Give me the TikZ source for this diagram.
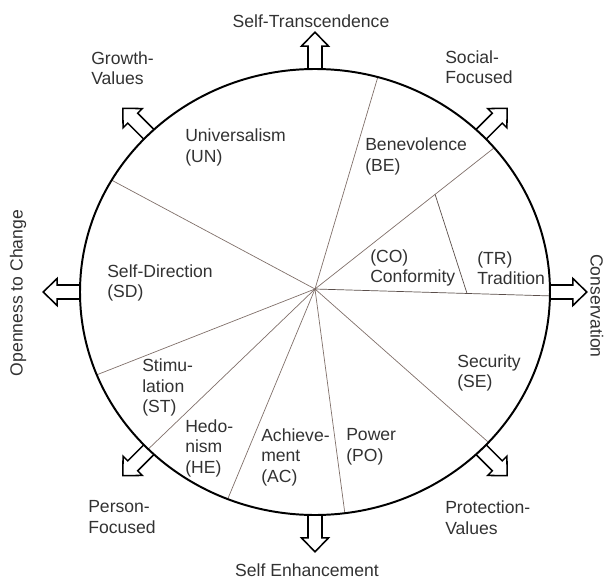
\documentclass[tikz,border=0pt]{standalone}
\usepackage{fontspec}
\setmainfont{Liberation Sans}
\usepackage{tikz}
\usetikzlibrary{positioning, calc}

\definecolor{spoke}{RGB}{128,112,106}
\definecolor{ink}{RGB}{50,50,50}

\begin{document}
\begin{tikzpicture}[
  lbl/.style={anchor=west, align=left, inner sep=0pt, text=ink, font=\fontsize{12.5}{14.6}\selectfont},
  dirlbl/.style={inner sep=0pt, text=ink, font=\fontsize{12.5}{14.6}\selectfont},
  spokeline/.style={draw=spoke, line width=0.5pt},
  blockarrow/.style={draw=black, fill=white, line width=1.1pt, line join=miter}
]
\useasboundingbox (-7.875,-7.15) rectangle (7.325,7.3);
% block arrows
\foreach \a in {0,45,...,315}
  \filldraw[blockarrow, shift={(\a:5.875 and 5.575)}, rotate=\a]
    (0,-0.175) -- (0.57,-0.175) -- (0.57,-0.34) -- (0.92,0) -- (0.57,0.34) -- (0.57,0.175) -- (0,0.175);
% spokes
\coordinate (hub) at (0,0.075);
\foreach \nm/\t in {unbe/74.5, beco/40.3, sdun/149.9, stsd/201.8, hest/224.8, heac/248.2, acpo/-82.7, pose/-42.4, setr/-1}
  \coordinate (\nm) at (\t:5.875 and 5.575);
\foreach \nm in {unbe, beco, sdun, stsd, hest, heac, acpo, pose}
  \draw[spokeline] (hub) -- (\nm);
\draw[spokeline, draw=spoke!70!black] (hub) -- (setr);
% conformity / tradition
\coordinate (cotop) at ($(hub)!0.67!(beco)$);
\coordinate (cobot) at ($(hub)!0.647!(setr)$);
\draw[spokeline, draw=spoke!70!black] (cotop) -- (cobot);
% circle
\draw[line width=1.4pt] (0,0) ellipse (5.875 and 5.575);
% values
\node[lbl] (un) at (-3.25,3.6125) {Universalism\\(UN)};
\node[lbl] (be) at (1.25,3.3875) {Benevolence\\(BE)};
\node[lbl] (sd) at (-5.2,0.225) {Self-Direction\\(SD)};
\node[lbl] (co) at (1.375,0.6) {(CO)\\Conformity};
\node[lbl] (tr) at (4.05,0.6) {(TR)\\Tradition};
\node[lbl] (st) at (-4.325,-2.3875) {Stimu-\\lation\\(ST)};
\node[lbl] (he) at (-3.25,-3.9) {Hedo-\\nism\\(HE)};
\node[lbl] (ac) at (-1.35,-4.125) {Achieve-\\ment\\(AC)};
\node[lbl] (po) at (0.775,-3.875) {Power\\(PO)};
\node[lbl] (se) at (3.55,-2.025) {Security\\(SE)};
% dimensions
\node[dirlbl] (trans) at (-0.1,6.775) {Self-Transcendence};
\node[dirlbl] (enh) at (-0.2,-6.95) {Self Enhancement};
\node[dirlbl, rotate=90] (open) at (-7.425,-0.025) {Openness to Change};
\node[dirlbl, rotate=-90] (cons) at (7.05,-0.35) {Conservation};
\node[lbl] (grow) at (-5.6,5.6) {Growth-\\Values};
\node[lbl] (soc) at (3.25,5.625) {Social-\\Focused};
\node[lbl] (pers) at (-5.675,-5.625) {Person-\\Focused};
\node[lbl] (prot) at (3.25,-5.6375) {Protection-\\Values};
\end{tikzpicture}
\end{document}
